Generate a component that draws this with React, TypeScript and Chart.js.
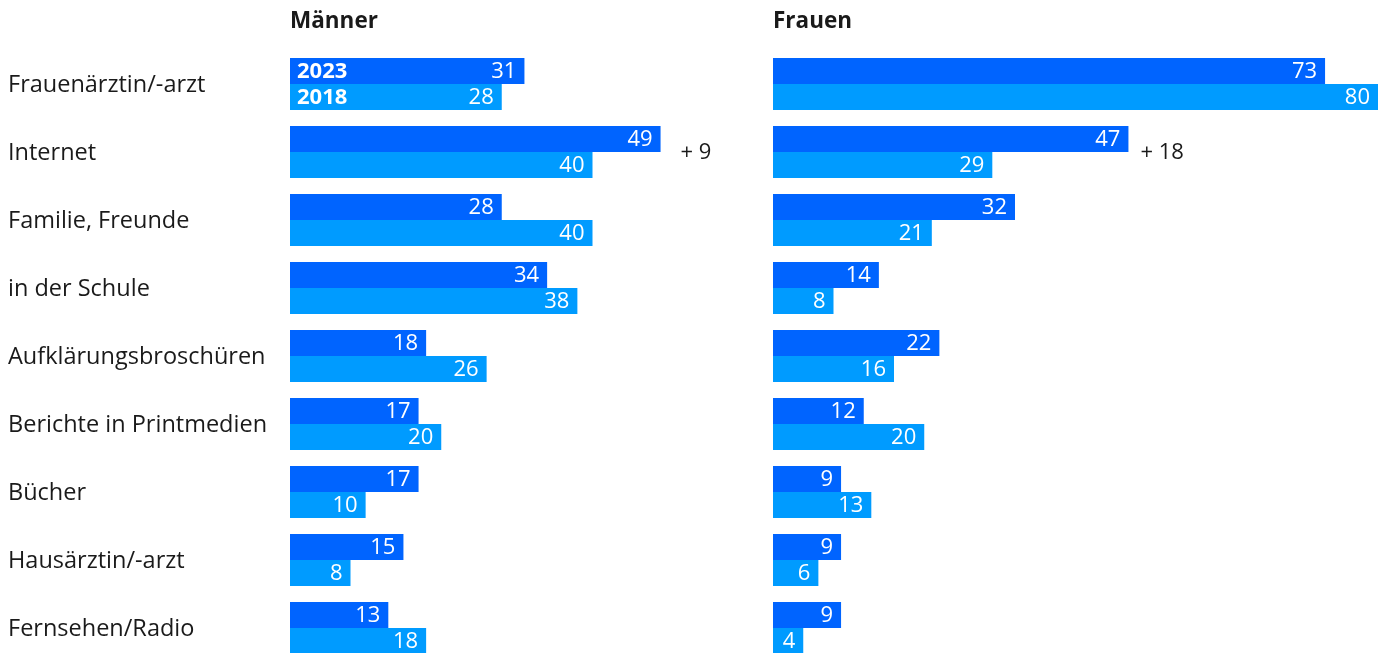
import React, { useEffect, useRef } from "react";
import { Chart, registerables } from "chart.js";

Chart.register(...registerables);

const categories = [
  "Frauenärztin/-arzt",
  "Internet",
  "Familie, Freunde",
  "in der Schule",
  "Aufklärungsbroschüren",
  "Berichte in Printmedien",
  "Bücher",
  "Hausärztin/-arzt",
  "Fernsehen/Radio",
];
const yearLabels = ["2023", "2018"];
const maenner2023 = [31, 49, 28, 34, 18, 17, 17, 15, 13];
const maenner2018 = [28, 40, 40, 38, 26, 20, 10, 8, 18];
const frauen2023 = [73, 47, 32, 14, 22, 12, 9, 9, 9];
const frauen2018 = [80, 29, 21, 8, 16, 20, 13, 6, 4];
const maennerDiff = ["", "+ 9", "", "", "", "", "", "", ""];
const frauenDiff = ["", "+ 18", "", "", "", "", "", "", ""];
const panelTitles = ["Männer", "Frauen"];

const COLOR_2023 = "#0064ff";
const COLOR_2018 = "#009bff";
const FONT = "'Open Sans', 'Noto Sans', sans-serif";
const TEXT = "#1a1a1a";

const UNIT_PX = 605 / 80;

type PanelOpts = {
  title: string;
  d2023: number[];
  d2018: number[];
  diff: string[];
  diffGap: number;
  showCategories: boolean;
  showYears: boolean;
  leftPad: number;
  xMax: number;
};

function makePlugin(o: PanelOpts) {
  return {
    id: "panelLabels",
    afterDatasetsDraw(chart: any) {
      const ctx = chart.ctx;
      const area = chart.chartArea;
      const yScale = chart.scales.y;
      ctx.save();
      // title
      ctx.fillStyle = TEXT;
      ctx.font = `bold 22.5px ${FONT}`;
      ctx.textAlign = "left";
      ctx.textBaseline = "middle";
      ctx.fillText(o.title, area.left, 22);
      // category labels
      if (o.showCategories) {
        ctx.font = `23.5px ${FONT}`;
        categories.forEach((c, i) => {
          ctx.fillText(c, 8, yScale.getPixelForValue(i) + 1);
        });
      }
      // value labels
      ctx.fillStyle = "#ffffff";
      chart.data.datasets.forEach((ds: any, di: number) => {
        const meta = chart.getDatasetMeta(di);
        meta.data.forEach((bar: any, i: number) => {
          ctx.font = `22px ${FONT}`;
          ctx.textAlign = "right";
          ctx.fillText(String(ds.data[i]), bar.x - 8, bar.y + 1);
          if (o.showYears && i === 0) {
            ctx.font = `bold 22px ${FONT}`;
            ctx.textAlign = "left";
            ctx.fillText(yearLabels[di], bar.base + 7, bar.y + 1);
          }
        });
      });
      // diff labels
      ctx.fillStyle = TEXT;
      ctx.font = `22px ${FONT}`;
      ctx.textAlign = "left";
      const m0 = chart.getDatasetMeta(0);
      const m1 = chart.getDatasetMeta(1);
      o.diff.forEach((t, i) => {
        if (!t) return;
        const xEnd = Math.max(m0.data[i].x, m1.data[i].x);
        ctx.fillText(t, xEnd + o.diffGap, yScale.getPixelForValue(i) + 1);
      });
      ctx.restore();
    },
  };
}

function Panel({ opts, left, width }: { opts: PanelOpts; left: number; width: number }) {
  const ref = useRef<HTMLCanvasElement>(null);
  useEffect(() => {
    if (!ref.current) return;
    const chart = new Chart(ref.current, {
      type: "bar",
      data: {
        labels: categories,
        datasets: [
          { label: yearLabels[0], data: opts.d2023, backgroundColor: COLOR_2023 },
          { label: yearLabels[1], data: opts.d2018, backgroundColor: COLOR_2018 },
        ],
      },
      options: {
        indexAxis: "y",
        animation: false,
        responsive: false,
        maintainAspectRatio: false,
        devicePixelRatio: 1,
        layout: { padding: { left: opts.leftPad, top: 50, right: 0, bottom: 0 } },
        datasets: {
          bar: { categoryPercentage: 52 / 68, barPercentage: 1, borderWidth: 0 },
        },
        scales: {
          x: { display: false, min: 0, max: opts.xMax },
          y: { display: false },
        },
        plugins: {
          legend: { display: false },
          tooltip: { enabled: false },
          title: { display: false },
        },
      },
      plugins: [makePlugin(opts)],
    } as any);
    return () => chart.destroy();
  }, []);
  return (
    <canvas
      ref={ref}
      width={width}
      height={662}
      style={{ position: "absolute", left, top: 0, width, height: 662 }}
    />
  );
}

export default function App() {
  useEffect(() => {
    document.body.style.margin = "0";
    document.body.style.overflow = "hidden";
  }, []);
  const leftWidth = 773;
  const leftPad = 290;
  const leftOpts: PanelOpts = {
    title: panelTitles[0],
    d2023: maenner2023,
    d2018: maenner2018,
    diff: maennerDiff,
    diffGap: 20,
    showCategories: true,
    showYears: true,
    leftPad,
    xMax: (leftWidth - leftPad) / UNIT_PX,
  };
  const rightOpts: PanelOpts = {
    title: panelTitles[1],
    d2023: frauen2023,
    d2018: frauen2018,
    diff: frauenDiff,
    diffGap: 12,
    showCategories: false,
    showYears: false,
    leftPad: 0,
    xMax: 80,
  };
  return (
    <div style={{ position: "relative", width: 1378, height: 653, overflow: "hidden", background: "#fff" }}>
      <Panel opts={leftOpts} left={0} width={leftWidth} />
      <Panel opts={rightOpts} left={773} width={605} />
    </div>
  );
}
